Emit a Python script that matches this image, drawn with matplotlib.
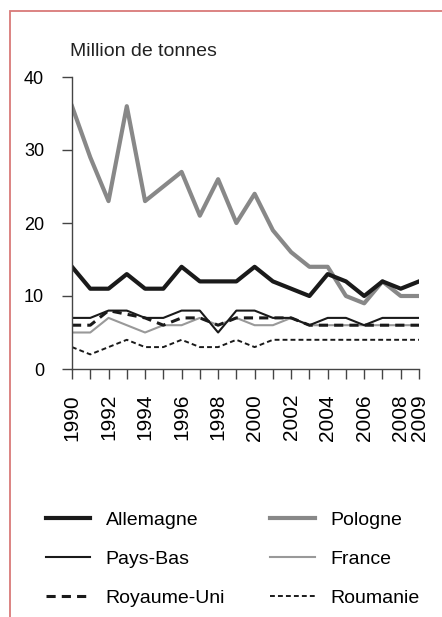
import matplotlib
matplotlib.use("Agg")
import matplotlib.pyplot as plt
from matplotlib.patches import Rectangle

plt.rcParams['font.family'] = ['Liberation Sans', 'DejaVu Sans']

years = list(range(1990, 2010))
allemagne = [14, 11, 11, 13, 11, 11, 14, 12, 12, 12, 14, 12, 11, 10, 13, 12, 10, 12, 11, 12]
pologne = [36, 29, 23, 36, 23, 25, 27, 21, 26, 20, 24, 19, 16, 14, 14, 10, 9, 12, 10, 10]
pays_bas = [7, 7, 8, 8, 7, 7, 8, 8, 5, 8, 8, 7, 7, 6, 7, 7, 6, 7, 7, 7]
france = [5, 5, 7, 6, 5, 6, 6, 7, 6, 7, 6, 6, 7, 6, 6, 6, 6, 6, 6, 6]
royaume_uni = [6, 6, 8, 7.5, 7, 6, 7, 7, 6, 7, 7, 7, 7, 6, 6, 6, 6, 6, 6, 6]
roumanie = [3, 2, 3, 4, 3, 3, 4, 3, 3, 4, 3, 4, 4, 4, 4, 4, 4, 4, 4, 4]

tick_years = [1990, 1992, 1994, 1996, 1998, 2000, 2002, 2004, 2006, 2008, 2009]
y_ticks = [0, 10, 20, 30, 40]

fig = plt.figure(figsize=(4.42, 6.17), dpi=100)
ax = fig.add_axes([72/442, 1-369/617, (419-72)/442, (369-77)/617])

# order matters: thin lines first, thick ones on top
ax.plot(years, france, color='#999999', lw=1.5, label='France')
ax.plot(years, roumanie, color='#1a1a1a', lw=1.4, dashes=(2.5, 1.6), label='Roumanie')
ax.plot(years, royaume_uni, color='#1a1a1a', lw=2.2, dashes=(3, 2), label='Royaume-Uni')
ax.plot(years, pays_bas, color='#1a1a1a', lw=1.5, label='Pays-Bas')
ax.plot(years, pologne, color='#888888', lw=3.0, label='Pologne')
ax.plot(years, allemagne, color='#1a1a1a', lw=3.0, label='Allemagne')

ax.set_xlim(1990, 2009)
ax.set_ylim(0, 40)
ax.set_xticks(years, minor=True)
ax.set_xticks(tick_years)
ax.set_xticklabels([str(y) for y in tick_years], rotation=90, fontsize=15)
ax.set_yticks(y_ticks)
ax.set_yticklabels([str(v) for v in y_ticks], fontsize=13)
ax.tick_params(axis='x', which='both', direction='out', length=7, width=1,
               color='#444444', pad=11)
ax.tick_params(axis='y', direction='out', length=7, width=1, color='#444444', pad=13)
for s in ['top', 'right']:
    ax.spines[s].set_visible(False)
for s in ['left', 'bottom']:
    ax.spines[s].set_color('#444444')
    ax.spines[s].set_linewidth(1)
ax.patch.set_visible(False)

fig.text(70/442, 1-51/617, 'Million de tonnes', fontsize=14, va='center', color='#222222')

# red frame round the panel
fig.patches.append(Rectangle((10/442, -0.05), 1.2, 1-11/617+0.05, transform=fig.transFigure,
                             fill=False, edgecolor='#d97a78', lw=1.3))

h = {l.get_label(): l for l in ax.get_lines()}
order = ['Allemagne', 'Pays-Bas', 'Royaume-Uni', 'Pologne', 'France', 'Roumanie']
fig.legend([h[k] for k in order], order, loc='upper left',
           bbox_to_anchor=(28/442, 1-494/617), ncol=2, frameon=False,
           fontsize=14, handlelength=2.3, handletextpad=0.8, columnspacing=2.3,
           labelspacing=1.1)

fig.savefig('out.png', dpi=100)
